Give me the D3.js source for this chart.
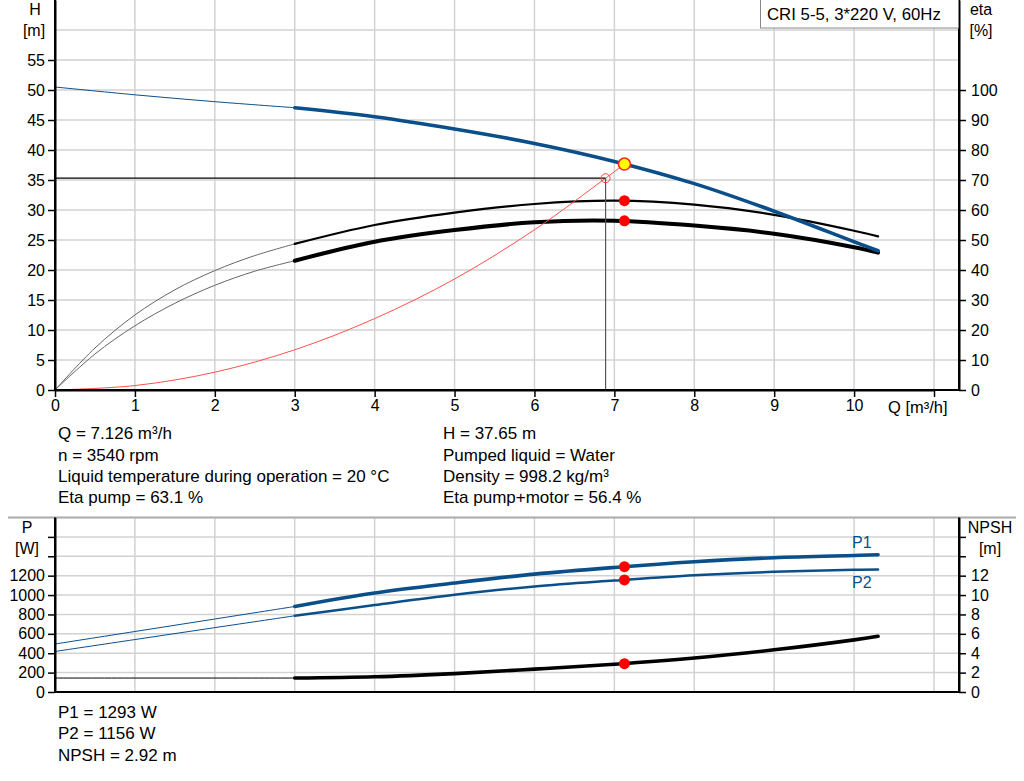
<!DOCTYPE html>
<html>
<head>
<meta charset="utf-8">
<script src="https://cdn.jsdelivr.net/npm/d3@7"></script>
<style>
  body { margin: 0; background: #fff; }
  svg { display: block; font-family: Arial, "Liberation Sans", sans-serif; }
  .axis text { font-size: 16px; fill: #000; }
  .axis path, .axis line { stroke: #000; }
</style>
</head>
<body>
<div id="chart"></div>
<script>
// flow values (m³/h) used by the pump curves
var qPump = [0, 1, 2, 3, 4, 5, 6, 7, 8, 9, 10, 10.3];
var head = [50.5, 49.2, 48.05, 47.05, 45.55, 43.5, 41.1, 38.1, 34.4, 29.8, 24.7, 23.2];
var p1 = [495, 624, 753, 882, 1021, 1124, 1216, 1285, 1343, 1385, 1408, 1415];
var p2 = [418, 541, 664, 786, 897, 1003, 1089, 1150, 1205, 1240, 1260, 1264];
var npsh = [1.44, 1.44, 1.44, 1.44, 1.57, 1.9, 2.36, 2.86, 3.5, 4.35, 5.38, 5.75];

// efficiency curves (eta %)
var qEta = [0, 0.5, 1, 1.5, 2, 2.5, 3, 4, 5, 6, 7, 8, 9, 10, 10.3];
var etaPump = [0, 14, 25, 33.4, 39.8, 44.8, 48.7, 55, 59.1, 62, 63.1, 61.8, 58.4, 53.1, 51.2];
var etaTotal = [0, 12, 21.4, 28.9, 34.9, 39.6, 43.1, 49.4, 53.3, 55.9, 56.4, 54.8, 52.1, 47.6, 45.8];

// system curve (red) up to the duty point
var qSys = [0, 1, 2, 3, 4, 5, 6, 6.89, 7.126];
var hSys = [0, 0.74, 2.97, 6.7, 11.9, 18.5, 26.7, 35.3, 37.65];

// duty point
var duty = { q: 7.126, h: 37.65, etaPump: 63.1, etaTotal: 56.4, p1: 1293, p2: 1156, npsh: 2.92 };
var req = { q: 6.89, h: 35.3 };

var xTicks = [0, 1, 2, 3, 4, 5, 6, 7, 8, 9, 10, 11];
var hTicks = [0, 5, 10, 15, 20, 25, 30, 35, 40, 45, 50, 55];
var etaTicks = [0, 10, 20, 30, 40, 50, 60, 70, 80, 90, 100];
var pTicks = [0, 200, 400, 600, 800, 1000, 1200, 1400, 1600];
var nTicks = [0, 2, 4, 6, 8, 10, 12, 14, 16];

var infoLeft = ["Q = 7.126 m³/h", "n = 3540 rpm", "Liquid temperature during operation = 20 °C", "Eta pump = 63.1 %"];
var infoRight = ["H = 37.65 m", "Pumped liquid = Water", "Density = 998.2 kg/m³", "Eta pump+motor = 56.4 %"];
var infoBottom = ["P1 = 1293 W", "P2 = 1156 W", "NPSH = 2.92 m"];

var blue = "#0b4f8a", grid = "#d2d2d2";

var svg = d3.select("#chart").append("svg")
  .attr("width", 1024).attr("height", 781);

var left = 55, right = 959;
var x = d3.scaleLinear().domain([0, 11]).range([left, 934]);

// top chart scales
var yH = d3.scaleLinear().domain([0, 65]).range([390, 0]);
var yEta = d3.scaleLinear().domain([0, 130]).range([390, 0]);
// bottom chart scales
var yP = d3.scaleLinear().domain([0, 1800]).range([692, 517.5]);
var yN = d3.scaleLinear().domain([0, 18]).range([692, 517.5]);

function gridlines(yScale, yVals, top, bottom) {
  var g = svg.append("g").attr("stroke", grid).attr("stroke-width", 1.5);
  g.selectAll(".v").data(xTicks.slice(1)).enter().append("line")
    .attr("x1", function(d) { return x(d); }).attr("x2", function(d) { return x(d); })
    .attr("y1", top).attr("y2", bottom);
  g.selectAll(".h").data(yVals).enter().append("line")
    .attr("x1", left).attr("x2", right)
    .attr("y1", function(d) { return yScale(d); }).attr("y2", function(d) { return yScale(d); });
}

gridlines(yH, [5, 10, 15, 20, 25, 30, 35, 40, 45, 50, 55, 60], 0, 390);
gridlines(yP, [200, 400, 600, 800, 1000, 1200, 1400, 1600], 517.5, 692);

// bottom chart top border
svg.append("line").attr("x1", 8).attr("x2", 1016).attr("y1", 517.5).attr("y2", 517.5)
  .attr("stroke", "#aaa").attr("stroke-width", 2);

function zip(qs, vs) { return qs.map(function(q, i) { return { q: q, v: vs[i] }; }); }

function curve(qs, vs, yScale, color, wThin, wThick) {
  var pts = zip(qs, vs);
  var line = d3.line().x(function(d) { return x(d.q); }).y(function(d) { return yScale(d.v); })
    .curve(d3.curveCatmullRom.alpha(0.5));
  svg.append("path").datum(pts.filter(function(d) { return d.q <= 3; }))
    .attr("d", line).attr("fill", "none").attr("stroke", color.thin || color).attr("stroke-width", wThin);
  svg.append("path").datum(pts.filter(function(d) { return d.q >= 3; }))
    .attr("d", line).attr("fill", "none").attr("stroke", color.thick || color)
    .attr("stroke-width", wThick).attr("stroke-linecap", "round");
}

// top chart curves
curve(qEta, etaPump, yEta, { thin: "#666", thick: "#000" }, 1, 2.2);
curve(qEta, etaTotal, yEta, { thin: "#666", thick: "#000" }, 1, 4);

svg.append("path").datum(zip(qSys, hSys))
  .attr("d", d3.line().x(function(d) { return x(d.q); }).y(function(d) { return yH(d.v); }).curve(d3.curveCatmullRom.alpha(0.5)))
  .attr("fill", "none").attr("stroke", "#ff5050").attr("stroke-width", 1);

curve(qPump, head, yH, blue, 1, 3.6);

// required point lines
svg.append("line").attr("x1", left).attr("x2", x(req.q)).attr("y1", yH(req.h)).attr("y2", yH(req.h))
  .attr("stroke", "#000").attr("stroke-width", 1.2);
svg.append("line").attr("x1", x(req.q)).attr("x2", x(req.q)).attr("y1", yH(req.h)).attr("y2", 390)
  .attr("stroke", "#555").attr("stroke-width", 1.2);
svg.append("circle").attr("cx", x(req.q)).attr("cy", yH(req.h)).attr("r", 4.5)
  .attr("fill", "none").attr("stroke", "#ff4040").attr("stroke-width", 1);

svg.append("circle").attr("cx", x(duty.q)).attr("cy", yEta(duty.etaPump)).attr("r", 5.5).attr("fill", "#ff0000");
svg.append("circle").attr("cx", x(duty.q)).attr("cy", yEta(duty.etaTotal)).attr("r", 5.5).attr("fill", "#ff0000");
svg.append("circle").attr("cx", x(duty.q)).attr("cy", yH(duty.h)).attr("r", 6)
  .attr("fill", "#ffff00").attr("stroke", "#ff2020").attr("stroke-width", 1.5);

// bottom chart curves
curve(qPump, p2, yP, blue, 1, 2.5);
curve(qPump, p1, yP, blue, 1, 3.6);
curve(qPump, npsh, yN, "#000", 1, 3.6);

svg.append("circle").attr("cx", x(duty.q)).attr("cy", yP(duty.p1)).attr("r", 5.5).attr("fill", "#ff0000");
svg.append("circle").attr("cx", x(duty.q)).attr("cy", yP(duty.p2)).attr("r", 5.5).attr("fill", "#ff0000");
svg.append("circle").attr("cx", x(duty.q)).attr("cy", yN(duty.npsh)).attr("r", 5.5).attr("fill", "#ff0000");

svg.append("text").attr("x", 852).attr("y", 548).attr("fill", blue).style("font-size", "16px").text("P1");
svg.append("text").attr("x", 852).attr("y", 588).attr("fill", blue).style("font-size", "16px").text("P2");

// axes
function styleAxis(g) {
  g.attr("class", "axis");
  g.select(".domain").attr("stroke-width", 2);
  g.selectAll(".tick line").attr("stroke-width", 1.5);
  g.selectAll(".tick text").style("font-size", "16px");
}

svg.append("g").attr("transform", "translate(" + left + ",0)")
  .call(d3.axisLeft(yH).tickValues(hTicks).tickSize(7).tickSizeOuter(0).tickPadding(3))
  .call(styleAxis);
svg.append("g").attr("transform", "translate(" + right + ",0)")
  .call(d3.axisRight(yEta).tickValues(etaTicks).tickSize(7).tickSizeOuter(0).tickPadding(5))
  .call(styleAxis);
svg.append("g").attr("transform", "translate(0,390)")
  .call(d3.axisBottom(x).tickValues(xTicks).tickSize(7).tickSizeOuter(0).tickPadding(3)
    .tickFormat(function(d) { return d < 11 ? d : ""; }))
  .call(styleAxis);
svg.append("line").attr("x1", left).attr("x2", right).attr("y1", 390).attr("y2", 390)
  .attr("stroke", "#000").attr("stroke-width", 2);
svg.append("line").attr("x1", left).attr("x2", left).attr("y1", 0).attr("y2", 390)
  .attr("stroke", "#000").attr("stroke-width", 2);
svg.append("line").attr("x1", right).attr("x2", right).attr("y1", 0).attr("y2", 390)
  .attr("stroke", "#000").attr("stroke-width", 2);

svg.append("g").attr("transform", "translate(" + left + ",0)")
  .call(d3.axisLeft(yP).tickValues(pTicks).tickSize(7).tickSizeOuter(0).tickPadding(3)
    .tickFormat(function(d) { return d <= 1200 ? d : ""; }))
  .call(styleAxis);
svg.append("g").attr("transform", "translate(" + right + ",0)")
  .call(d3.axisRight(yN).tickValues(nTicks).tickSize(7).tickSizeOuter(0).tickPadding(5)
    .tickFormat(function(d) { return d <= 12 ? d : ""; }))
  .call(styleAxis);
svg.append("line").attr("x1", left).attr("x2", right).attr("y1", 692).attr("y2", 692)
  .attr("stroke", "#000").attr("stroke-width", 2);
svg.append("line").attr("x1", left).attr("x2", left).attr("y1", 517.5).attr("y2", 692)
  .attr("stroke", "#000").attr("stroke-width", 2);
svg.append("line").attr("x1", right).attr("x2", right).attr("y1", 517.5).attr("y2", 692)
  .attr("stroke", "#000").attr("stroke-width", 2);

// axis titles
function label(txt, lx, ly, anchor, size) {
  svg.append("text").attr("x", lx).attr("y", ly).attr("text-anchor", anchor || "middle")
    .style("font-size", (size || 17) + "px").attr("fill", "#000").text(txt);
}
label("H", 35, 15, null, 16); label("[m]", 34, 36, null, 16);
label("eta", 981, 15, null, 16); label("[%]", 981, 36, null, 16);
label("Q [m³/h]", 888, 413, "start", 16.5);
label("P", 27, 533, null, 16); label("[W]", 27, 554, null, 16);
label("NPSH", 990, 533, null, 16); label("[m]", 990, 554, null, 16);

// title box
svg.append("rect").attr("x", 760.5).attr("y", -1).attr("width", 198).attr("height", 29)
  .attr("fill", "#fff").attr("stroke", "#888").attr("stroke-width", 1);
label("CRI 5-5, 3*220 V, 60Hz", 767, 20, "start", 16.8);

// info text
infoLeft.forEach(function(t, i) { label(t, 58, [439, 461, 482, 503][i], "start"); });
infoRight.forEach(function(t, i) { label(t, 443, [439, 461, 482, 503][i], "start"); });
infoBottom.forEach(function(t, i) { label(t, 58, [718, 739, 761][i], "start"); });
</script>
</body>
</html>
